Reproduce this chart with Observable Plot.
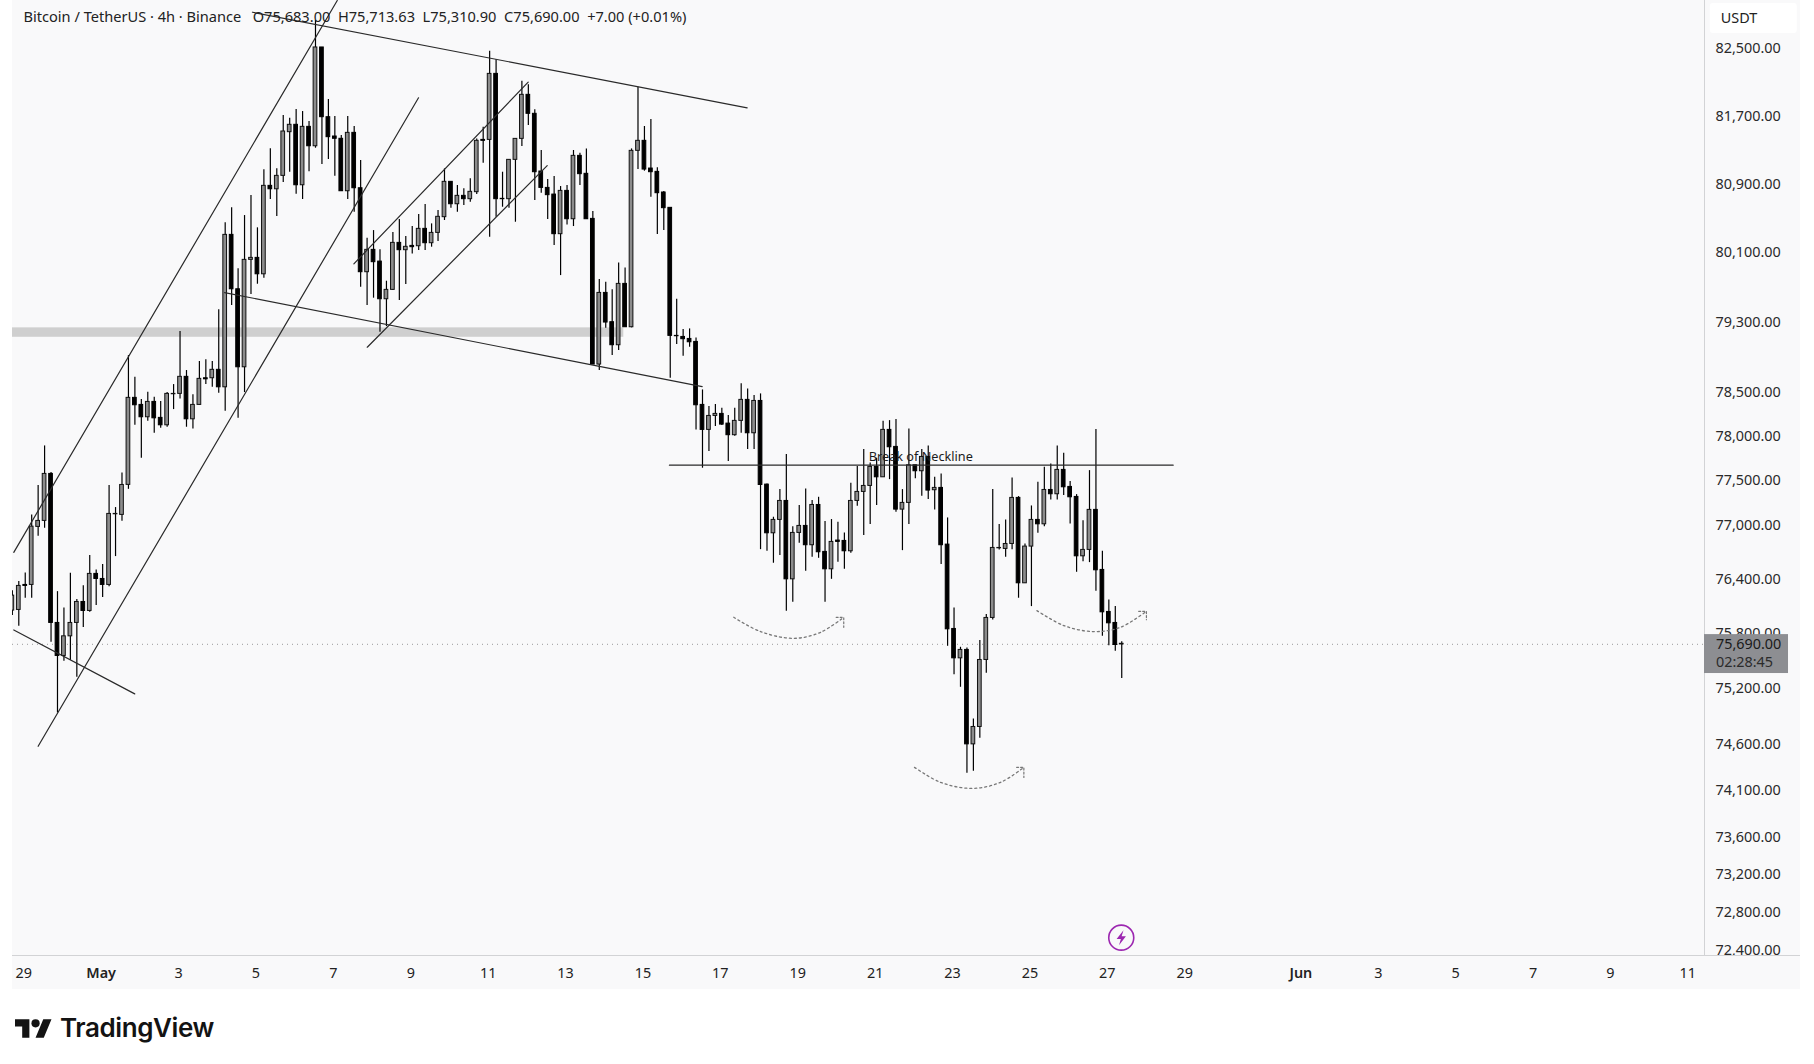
<!DOCTYPE html><html><head><meta charset="utf-8">
<script src="https://cdn.jsdelivr.net/npm/d3@7"></script>
<script src="https://cdn.jsdelivr.net/npm/@observablehq/plot@0.6"></script>
<style>
html,body{margin:0;background:#fff}
#wrap{position:relative;width:1814px;height:1064px;overflow:hidden}
#chart{position:absolute;left:12px;top:0}
#chart svg{display:block}
#logo{position:absolute;left:15px;top:1013px;display:flex;align-items:center;gap:8px;color:#131313;font:600 26px/30px Inter,"Noto Sans",sans-serif;letter-spacing:-.4px}
</style>
</head><body><div id="wrap"><div id="chart"></div>
<div id="logo"><svg viewBox="0 4 36 18" width="37" height="19"><path fill="#131313" d="M14 22H7V11H0V4h14v18zM28 22h-8l7.5-18h8L28 22z"/><circle fill="#131313" cx="20" cy="8" r="4"/></svg><span>TradingView</span></div></div>
<script>
const opens=[76055,76062,76338,76338,76982,77049,77575,75919,75557,75772,75919,76150,76051,76460,76404,76338,77123,77116,77452,78434,78354,78214,78388,
78207,78123,78475,78479,78673,78191,78354,78657,78657,78753,78554,80307,79677,78782,80017,80040,79850,80879,80839,80996,81510,81597,80886,
81573,81344,82516,81687,81459,81432,80816,81502,80851,79874,80133,79997,79562,79670,80214,80129,80179,80175,80377,80210,80330,80513,80926,
80664,80762,80723,80805,81419,81419,82201,80727,80723,81184,81431,81952,81727,81047,80855,80777,80315,80820,80489,81231,81020,80493,78813,
79635,79298,79034,79739,79240,81290,81408,81082,81043,80801,80622,79141,79129,79106,79072,78354,78071,78229,78252,78142,78011,78173,78411,
78033,78399,77455,76911,77060,77272,76400,76915,76993,76778,77227,76704,76511,76830,76826,76711,77272,77373,77440,77654,77537,78071,77879,
77175,77250,77672,77605,77766,77392,77418,76785,75853,75531,75623,74596,74784,75513,75974,76744,76737,76792,77306,76356,76763,77060,77011,
77395,77347,77620,77429,77317,76655,76726,77172,76504,76040,75919,75683];
const highs=[76275,76375,76471,77116,77444,77890,77590,76264,76084,76467,76176,76330,76663,76504,76563,77444,77198,77586,78916,78668,78415,78497,78441,
78392,78494,78585,79191,78745,78468,78847,78867,78847,79440,80447,80622,79913,80532,80766,80389,81067,81314,81079,81707,81675,81778,81754,
81636,82839,82516,81896,81695,81471,81695,81577,81176,80268,80357,80133,79770,80334,80486,80288,80404,80544,80661,80435,80590,81078,80926,
80883,80844,80961,81431,81569,82472,82368,81039,81184,81431,82114,82071,81774,81294,80953,80988,80871,80883,81294,81262,81313,80579,79789,
79758,79670,79982,79924,81313,82043,81577,81660,81090,80813,80622,79562,79213,79221,79118,78524,78335,78358,78316,78233,78316,78593,78536,
78460,78479,77463,77090,77399,77792,76985,77220,77407,77276,77313,77041,77064,77034,76915,77470,77657,77849,77699,77751,78169,78176,78188,
77399,78082,77672,77849,77890,77537,77575,77082,76084,75652,75644,74871,75725,76011,77399,77008,77060,77530,77321,76792,77216,77481,77650,
77687,77890,77807,77489,77343,77052,77612,78075,76711,76172,76099,75713.63];
const lows=[76000,75882,76191,76191,76878,76967,75707,74936,75499,75506,75324,75868,76036,76110,76198,76319,76652,77045,77402,78123,77751,78168,78033,
78089,78101,78301,78422,78101,78082,78354,78585,78554,78486,78282,79489,78202,78494,79616,79735,79804,80719,80520,80918,81039,80781,80719,
81043,81321,81129,81188,80992,80813,80719,80571,79700,79489,79574,79183,79248,79662,79547,79731,80086,80125,80125,80164,80229,80474,80618,
80571,80649,80688,80777,81145,80280,80513,80629,80618,80454,81341,81589,80707,80793,80486,80183,79835,80423,80404,80883,80489,78813,78745,
79229,78916,78973,79240,79233,81070,81051,80746,80311,80357,78657,79042,78908,79011,78071,77639,77826,78108,78120,77714,77999,78033,77849,
77849,76729,76711,76578,76663,76047,76146,76800,76489,76644,76633,76146,76400,76589,76511,76689,77212,76885,77008,77220,77537,77511,77145,
76718,77008,77522,77324,77287,77172,76563,75663,75353,75215,74284,74305,74661,75367,75952,76726,76644,76729,76191,76356,76099,76911,76985,
77283,77283,77332,77015,76478,76596,76585,76268,75772,75670,75608,75310.90];
const closes=[76220,76327,76327,76985,77049,77575,75919,75557,75772,75919,76150,76051,76460,76404,76338,77127,77127,77451,78434,78350,78214,78388,78202,
78123,78479,78479,78673,78191,78354,78650,78645,78753,78554,80307,79677,78782,80017,80040,79850,80879,80839,80996,81518,81597,80886,81573,
81344,82516,81687,81451,81432,80816,81502,80851,79874,80133,79990,79562,79670,80214,80129,80168,80164,80377,80210,80330,80517,80926,80664,
80762,80723,80809,81408,81408,82201,80723,80723,81184,81431,81952,81727,81039,80855,80770,80315,80820,80489,81231,81016,80489,78813,79635,
79294,79034,79739,79240,81290,81408,81070,81039,80793,80618,79141,79137,79103,79068,78350,78071,78229,78252,78131,78011,78173,78411,78033,
78399,77451,76911,77060,77272,76400,76915,76993,76778,77227,76700,76511,76815,76815,76711,77272,77373,77440,77654,77537,78071,77875,77175,
77250,77672,77605,77766,77388,77418,76778,75849,75531,75623,74596,74784,75513,75974,76748,76748,76792,77306,76356,76763,77060,77011,77395,
77347,77620,77425,77313,76655,76726,77172,76500,76036,75915,75677,75690];

const firstHourOffset=-56; // first bar, hours from 1 May 00:00
const priceTicks=[82500,81700,80900,80100,79300,78500,78000,77500,77000,76400,75800,75200,74600,74100,73600,73200,72800,72400];
const dayTicks=["2026-04-29","2026-05-03","2026-05-05","2026-05-07","2026-05-09","2026-05-11","2026-05-13","2026-05-15","2026-05-17","2026-05-19","2026-05-21","2026-05-23","2026-05-25","2026-05-27","2026-05-29","2026-06-03","2026-06-05","2026-06-07","2026-06-09","2026-06-11"];
const monthTicks=["2026-05-01","2026-06-01"];
const headerText="Bitcoin / TetherUS · 4h · Binance\u00A0\u00A0\u00A0O75,683.00\u00A0\u00A0H75,713.63\u00A0\u00A0L75,310.90\u00A0\u00A0C75,690.00\u00A0\u00A0+7.00 (+0.01%)";
const lastPrice=75690, countdown="02:28:45", unit="USDT", neckLabel="Break of Neckline", neckPrice=77673;
// drawn lines: hours from 1 May, price
const trendHours=[[-55.1,145.5],[-40,195.9],[-55.1,19.9],[92.9,399.7],[75.6,371.8],[155.8,263.9],[164.1,275.7],[351.5,663.9]];
const trendPrices=[[76699,83079],[74575,81917],[75842,75143],[82938,81798],[79639,78562],[79971,82102],[79011,81117],[77673,77673]];
const arrowHours=[[391.4,408,428.6,445.2,459.6],[503.5,519.6,539.3,556.9,571.3],[579.4,596.1,614.7,631.2,647.3]];
const arrowPrices=[[75981,75824,75750,75816,75981],[74348,74187,74122,74187,74348],[76055,75890,75824,75871,76047]];
const headHours=[[454.9,459.6,459.6],[566.8,571.3,571.3],[642.5,647.3,647.3]];
const headPrices=[[75981,75981,75871],[74348,74348,74240],[76047,76047,75955]];
const zoneHours=[-56,323.2], zonePrices=[79125,79233];

const t0=Date.UTC(2026,4,1);
const at=h=>new Date(t0+h*3600e3);
const bars=opens.map((o,i)=>{const h=firstHourOffset+i*4;return{h,t:at(h),t1:at(h-1.15),t2:at(h+1.15),o,hi:highs[i],lo:lows[i],c:closes[i]}});
const toRows=(hs,ps)=>hs.flatMap((a,id)=>a.map((h,j)=>({id,t:at(h),p:ps[id][j]})));
const bg="#f9f9fa",ink="#1c1c1c";
const xLeft=-55.9,xAxis=993.4,xRight=1053,yBottom=72350,yTop=83079,yPanelEnd=71984;
const bolt={draw(c,size){const r=Math.sqrt(size/Math.PI);[[.3,-1],[-.62,.18],[-.05,.18],[-.3,1],[.62,-.2],[.05,-.2]].forEach(([a,b],k)=>k?c.lineTo(a*r,b*r):c.moveTo(a*r,b*r));c.closePath();}};
const font='"Noto Sans",sans-serif';
const chart=Plot.plot({
  width:1788,height:989,marginLeft:0,marginRight:96,marginTop:0,marginBottom:34,
  style:{background:bg,fontFamily:font,fontSize:"14px",color:ink},
  x:{type:"utc",domain:[at(xLeft),at(xAxis)]},
  y:{type:"log",domain:[yBottom,yTop]},
  marks:[
    Plot.rect([0],{x1:at(zoneHours[0]),x2:at(zoneHours[1]),y1:zonePrices[0],y2:zonePrices[1],fill:"#cfcfcf"}),
    Plot.ruleY([lastPrice],{stroke:"#9a9a9a",strokeWidth:1,strokeDasharray:"1 4",dy:.5}),
    Plot.ruleX(bars,{x:"t",y1:"lo",y2:"hi",stroke:"#000",strokeWidth:1.2}),
    Plot.rect(bars.filter(d=>d.c>=d.o),{x1:"t1",x2:"t2",y1:"o",y2:"c",fill:"#8c8c8c",stroke:"#111",strokeWidth:1}),
    Plot.rect(bars.filter(d=>d.c<d.o),{x1:"t1",x2:"t2",y1:"o",y2:"c",fill:"#000",stroke:"#000",strokeWidth:1}),
    Plot.line(toRows(trendHours,trendPrices),{x:"t",y:"p",z:"id",stroke:"#2a2a2a",strokeWidth:1.2}),
    Plot.line(toRows(arrowHours,arrowPrices),{x:"t",y:"p",z:"id",curve:"catmull-rom",stroke:"#777",strokeWidth:1.3,strokeDasharray:"2 3"}),
    Plot.line(toRows(headHours,headPrices),{x:"t",y:"p",z:"id",stroke:"#777",strokeWidth:1.2,strokeDasharray:"2 2"}),
    Plot.text([neckLabel],{x:at(475.1),y:neckPrice,text:d=>d,textAnchor:"start",lineAnchor:"bottom",dy:-4,fontSize:12.7,fill:"#1c1c1c"}),
    Plot.text([headerText],{frameAnchor:"top-left",dx:11,dy:11,text:d=>d,fontSize:14.6,fill:"#222"}),
    Plot.dot([0],{x:at(631.7),y:72537,r:12.5,stroke:"#9c27b0",strokeWidth:1.6,fill:"none"}),
    Plot.dot([0],{x:at(631.7),y:72537,r:7.5,symbol:bolt,fill:"#9c27b0"}),
    // price scale panel
    Plot.ruleX([0],{x:at(xAxis),y1:yBottom,y2:yTop,stroke:"#d2d3d5",strokeWidth:1}),
    Plot.axisY(priceTicks,{anchor:"right",tickSize:0,tickPadding:11,tickFormat:d3.format(",.2f"),label:null,fontSize:14.4,color:"#2a2a2a"}),
    Plot.rect([0],{x1:at(997),x2:at(1050.9),y1:82683,y2:83043,fill:"#fff",rx:3}),
    Plot.text([unit],{x:at(1003.5),y:82863,text:d=>d,textAnchor:"start",fontSize:14.4,fill:"#222"}),
    Plot.rect([0],{x1:at(xAxis),x2:at(1045.5),y1:75365,y2:75791,fill:"#8d8e92"}),
    Plot.text([lastPrice],{x:at(1000.5),y:lastPrice,dy:1,text:d3.format(",.2f"),textAnchor:"start",fontSize:14.4,fill:"#1a1a1a"}),
    Plot.text([countdown],{x:at(1000.5),y:lastPrice,dy:19,text:d=>d,textAnchor:"start",fontSize:14.4,fill:"#2b2b2b"}),
    // time scale panel
    Plot.rect([0],{x1:at(xLeft-1),x2:at(xRight),y1:yPanelEnd,y2:yBottom,fill:bg}),
    Plot.ruleY([yBottom],{x1:at(xLeft-1),x2:at(xRight),stroke:"#d2d3d5",strokeWidth:1}),
    Plot.axisX(dayTicks.map(d=>new Date(d)),{tickSize:0,tickPadding:12.5,dx:-1.5,tickFormat:d=>String(d.getUTCDate()),label:null,fontSize:14.4,color:"#222"}),
    Plot.axisX(monthTicks.map(d=>new Date(d)),{tickSize:0,tickPadding:12.5,dx:-1.5,tickFormat:d3.utcFormat("%b"),label:null,fontSize:14.4,fontWeight:600,color:"#222"})
  ]
});
document.getElementById("chart").append(chart);
</script></body></html>
